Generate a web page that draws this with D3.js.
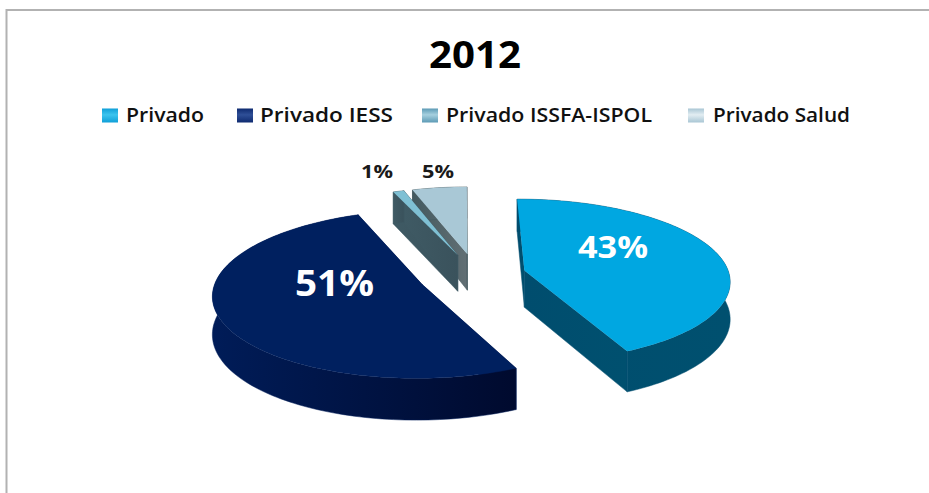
<!DOCTYPE html>
<html>
<head>
<meta charset="utf-8">
<script src="https://cdn.jsdelivr.net/npm/d3@7"></script>
<style>
html,body{margin:0;padding:0;background:#fff;}
svg{display:block;}
text{font-family:"Open Sans","Noto Sans",sans-serif;}
</style>
</head>
<body>
<svg id="chart" width="929" height="493"></svg>
<script>
// Chart content
const title = "2012";
const categories = ["Privado", "Privado IESS", "Privado ISSFA-ISPOL", "Privado Salud"];
const shares = [43, 51, 1, 5];
const shareLabels = ["43%", "51%", "1%", "5%"];

// Colours per slice: top face, wall (light end), wall (dark end)
const topColors = ["#00a7e1", "#00205f", "#7fc0d4", "#a9c8d6"];
const wallLight = ["#004d6e", "#001c58", "#3f5a64", "#43595f"];
const wallDark = ["#00506f", "#000a2e", "#3a525c", "#626f74"];
const swatchColors = [["#0f9fd8", "#3cc4ee"], ["#0e2a70", "#2f4f97"], ["#5c9ab5", "#a6d0df"], ["#a9c6d4", "#e2edf2"]];

const svg = d3.select("#chart");

// Pie geometry and tilted-disc projection
const cx = 476, cy = 275, radius = 205, tilt = 0.40, persp = 0.00057;
const depth = 37, startDeg = -0.5;
const explodeBySlice = [50, 58, 54, 54];

const pie = d3.pie().sort(null).value(d => d)
  .startAngle(startDeg * Math.PI / 180)
  .endAngle((startDeg + 360) * Math.PI / 180);
const arcs = pie(shares);

function project(u, v, z) {
  const s = 1 - v * persp;
  return [cx + u * s, cy - v * tilt * s + z * s];
}

function slice3d(a, explode) {
  const mid = (a.startAngle + a.endAngle) / 2;
  const ox = explode * Math.sin(mid), oy = explode * Math.cos(mid);
  const n = Math.max(4, Math.ceil((a.endAngle - a.startAngle) * 40));
  const angle = d3.scaleLinear().domain([0, n]).range([a.startAngle, a.endAngle]);
  const rim = d3.range(n + 1).map(i => {
    const t = angle(i);
    return [ox + radius * Math.sin(t), oy + radius * Math.cos(t)];
  });
  return {centre: [ox, oy], rim};
}

const line = d3.line();
const at = z => p => project(p[0], p[1], z);

const defs = svg.append("defs");

// Walls darken from left to right across each slice
arcs.forEach((a, i) => {
  const g = defs.append("linearGradient").attr("id", "wall" + i);
  g.append("stop").attr("offset", "0%").attr("stop-color", wallLight[i]);
  g.append("stop").attr("offset", "100%").attr("stop-color", wallDark[i]);
});
swatchColors.forEach((c, i) => {
  const g = defs.append("linearGradient").attr("id", "swatch" + i)
    .attr("x1", 0).attr("x2", 0).attr("y1", 0).attr("y2", 1);
  g.append("stop").attr("offset", "0%").attr("stop-color", c[0]);
  g.append("stop").attr("offset", "45%").attr("stop-color", c[1]);
  g.append("stop").attr("offset", "100%").attr("stop-color", c[0]);
});

// Frame: only the top and left edges are drawn
svg.append("path")
  .attr("d", "M929,10H6.5V493")
  .attr("fill", "none").attr("stroke", "#b2b2b2").attr("stroke-width", 2);

// Back slices first so the nearer ones overlap them
const drawOrder = [3, 2, 1, 0];
const pieLayer = svg.append("g");
drawOrder.forEach(i => {
  const {centre, rim} = slice3d(arcs[i], explodeBySlice[i]);
  const g = pieLayer.append("g");
  const wall = pts => {
    const poly = pts.map(at(0)).concat(pts.slice().reverse().map(at(depth)));
    g.append("path").attr("d", line(poly) + "Z")
      .attr("fill", `url(#wall${i})`).attr("stroke", wallLight[i]).attr("stroke-width", 0.5);
  };
  wall([centre, rim[0]]);
  wall([centre, rim[rim.length - 1]]);
  wall(rim);
  g.append("path")
    .attr("d", line([centre].concat(rim).map(at(0))) + "Z")
    .attr("fill", topColors[i]);
});

// Percentage labels
const labelX = [613, 334.5, 377, 438];
const labelY = [246, 282, 171, 171];
const labelSize = [31, 35, 18, 18];
const labelWidth = [70, 79, 32, 32];
const labelFill = ["#fff", "#fff", "#1a1a1a", "#1a1a1a"];
svg.append("g").selectAll("text").data(shareLabels).join("text")
  .attr("x", (d, i) => labelX[i]).attr("y", (d, i) => labelY[i])
  .attr("text-anchor", "middle").attr("dominant-baseline", "central")
  .attr("font-size", (d, i) => labelSize[i]).attr("font-weight", 700)
  .attr("fill", (d, i) => labelFill[i])
  .attr("textLength", (d, i) => labelWidth[i]).attr("lengthAdjust", "spacingAndGlyphs")
  .text(d => d);

// Title
svg.append("text").attr("x", 475).attr("y", 68).attr("text-anchor", "middle")
  .attr("font-size", 37).attr("font-weight", 700).attr("fill", "#000")
  .attr("textLength", 92).attr("lengthAdjust", "spacingAndGlyphs").text(title);

// Legend
const legendSwatchX = [102, 237, 422, 688];
const legendTextX = [126, 260, 446, 713];
const legendTextEnd = [204, 393, 652, 850];
const legend = svg.append("g").selectAll("g").data(categories).join("g");
legend.append("rect")
  .attr("x", (d, i) => legendSwatchX[i]).attr("y", 108.5).attr("width", 16).attr("height", 14)
  .attr("fill", (d, i) => `url(#swatch${i})`);
legend.append("text")
  .attr("x", (d, i) => legendTextX[i]).attr("y", 122)
  .attr("font-size", 19).attr("font-weight", 600).attr("fill", "#111")
  .attr("textLength", (d, i) => legendTextEnd[i] - legendTextX[i])
  .attr("lengthAdjust", "spacingAndGlyphs").text(d => d);
</script>
</body>
</html>
